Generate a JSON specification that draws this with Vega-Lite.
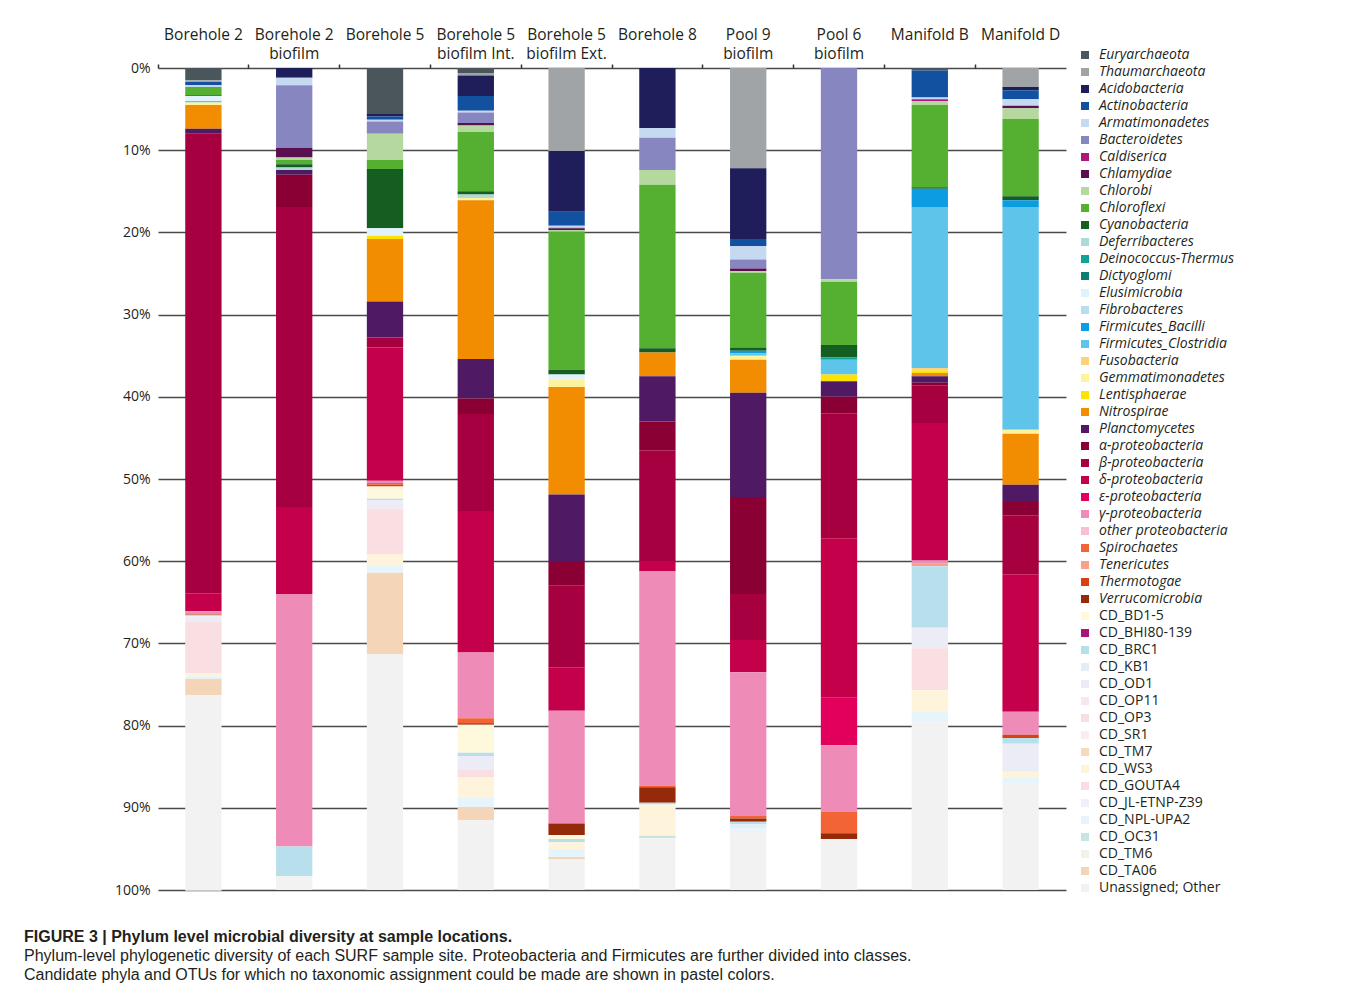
{
"$schema": "https://vega.github.io/schema/vega-lite/v6.json",
"autosize": {"type": "none"},
"width": 908,
"height": 822,
"padding": {"left": 158, "top": 68, "right": 288, "bottom": 102},
"background": "white",
"title": {
  "text": "FIGURE 3 | Phylum level microbial diversity at sample locations.",
  "subtitle": ["Phylum-level phylogenetic diversity of each SURF sample site. Proteobacteria and Firmicutes are further divided into classes.", "Candidate phyla and OTUs for which no taxonomic assignment could be made are shown in pastel colors."],
  "orient": "bottom", "anchor": "start", "frame": "group", "dx": -134, "offset": 32,
  "font": "Liberation Sans", "fontSize": 16, "fontWeight": "bold", "color": "#231f20",
  "subtitleFont": "Liberation Sans", "subtitleFontSize": 16, "subtitleColor": "#231f20", "subtitlePadding": 3, "subtitleLineHeight": 19
},
"data": {"values": [
{"site":"Borehole 2","phylum":"Euryarchaeota","pct":1.5},
{"site":"Borehole 2","phylum":"Thaumarchaeota","pct":0.2},
{"site":"Borehole 2","phylum":"Actinobacteria","pct":0.4},
{"site":"Borehole 2","phylum":"Armatimonadetes","pct":0.2},
{"site":"Borehole 2","phylum":"Chloroflexi","pct":1.0},
{"site":"Borehole 2","phylum":"Cyanobacteria","pct":0.1},
{"site":"Borehole 2","phylum":"Elusimicrobia","pct":0.6},
{"site":"Borehole 2","phylum":"Firmicutes_Clostridia","pct":0.2},
{"site":"Borehole 2","phylum":"Gemmatimonadetes","pct":0.3},
{"site":"Borehole 2","phylum":"Nitrospirae","pct":2.9},
{"site":"Borehole 2","phylum":"Planctomycetes","pct":0.6},
{"site":"Borehole 2","phylum":"β-proteobacteria","pct":55.9},
{"site":"Borehole 2","phylum":"δ-proteobacteria","pct":2.2},
{"site":"Borehole 2","phylum":"γ-proteobacteria","pct":0.3},
{"site":"Borehole 2","phylum":"Thermotogae","pct":0.1},
{"site":"Borehole 2","phylum":"CD_BRC1","pct":0.2},
{"site":"Borehole 2","phylum":"CD_OD1","pct":0.6},
{"site":"Borehole 2","phylum":"CD_OP3","pct":6.3},
{"site":"Borehole 2","phylum":"CD_WS3","pct":0.4},
{"site":"Borehole 2","phylum":"CD_NPL-UPA2","pct":0.3},
{"site":"Borehole 2","phylum":"CD_TA06","pct":2.0},
{"site":"Borehole 2","phylum":"Unassigned; Other","pct":23.8},

{"site":"Borehole 2 biofilm","phylum":"Acidobacteria","pct":1.2},
{"site":"Borehole 2 biofilm","phylum":"Armatimonadetes","pct":0.9},
{"site":"Borehole 2 biofilm","phylum":"Bacteroidetes","pct":7.6},
{"site":"Borehole 2 biofilm","phylum":"Chlamydiae","pct":1.2},
{"site":"Borehole 2 biofilm","phylum":"Chlorobi","pct":0.3},
{"site":"Borehole 2 biofilm","phylum":"Chloroflexi","pct":0.5},
{"site":"Borehole 2 biofilm","phylum":"Cyanobacteria","pct":0.4},
{"site":"Borehole 2 biofilm","phylum":"Deferribacteres","pct":0.3},
{"site":"Borehole 2 biofilm","phylum":"Planctomycetes","pct":0.6},
{"site":"Borehole 2 biofilm","phylum":"α-proteobacteria","pct":3.9},
{"site":"Borehole 2 biofilm","phylum":"β-proteobacteria","pct":36.5},
{"site":"Borehole 2 biofilm","phylum":"δ-proteobacteria","pct":10.6},
{"site":"Borehole 2 biofilm","phylum":"γ-proteobacteria","pct":30.7},
{"site":"Borehole 2 biofilm","phylum":"CD_BRC1","pct":3.6},
{"site":"Borehole 2 biofilm","phylum":"Unassigned; Other","pct":1.7},

{"site":"Borehole 5","phylum":"Euryarchaeota","pct":5.6},
{"site":"Borehole 5","phylum":"Acidobacteria","pct":0.3},
{"site":"Borehole 5","phylum":"Actinobacteria","pct":0.4},
{"site":"Borehole 5","phylum":"Armatimonadetes","pct":0.2},
{"site":"Borehole 5","phylum":"Bacteroidetes","pct":1.5},
{"site":"Borehole 5","phylum":"Chlorobi","pct":3.2},
{"site":"Borehole 5","phylum":"Chloroflexi","pct":1.1},
{"site":"Borehole 5","phylum":"Cyanobacteria","pct":7.2},
{"site":"Borehole 5","phylum":"Elusimicrobia","pct":0.9},
{"site":"Borehole 5","phylum":"Lentisphaerae","pct":0.4},
{"site":"Borehole 5","phylum":"Nitrospirae","pct":7.6},
{"site":"Borehole 5","phylum":"Planctomycetes","pct":4.4},
{"site":"Borehole 5","phylum":"β-proteobacteria","pct":1.2},
{"site":"Borehole 5","phylum":"δ-proteobacteria","pct":16.2},
{"site":"Borehole 5","phylum":"γ-proteobacteria","pct":0.3},
{"site":"Borehole 5","phylum":"Spirochaetes","pct":0.2},
{"site":"Borehole 5","phylum":"Thermotogae","pct":0.2},
{"site":"Borehole 5","phylum":"CD_BD1-5","pct":1.5},
{"site":"Borehole 5","phylum":"CD_BRC1","pct":0.2},
{"site":"Borehole 5","phylum":"CD_OD1","pct":1.0},
{"site":"Borehole 5","phylum":"CD_OP3","pct":5.6},
{"site":"Borehole 5","phylum":"CD_WS3","pct":1.3},
{"site":"Borehole 5","phylum":"CD_NPL-UPA2","pct":0.9},
{"site":"Borehole 5","phylum":"CD_TA06","pct":9.9},
{"site":"Borehole 5","phylum":"Unassigned; Other","pct":28.7},

{"site":"Borehole 5 biofilm Int.","phylum":"Euryarchaeota","pct":0.6},
{"site":"Borehole 5 biofilm Int.","phylum":"Thaumarchaeota","pct":0.3},
{"site":"Borehole 5 biofilm Int.","phylum":"Acidobacteria","pct":2.5},
{"site":"Borehole 5 biofilm Int.","phylum":"Actinobacteria","pct":1.8},
{"site":"Borehole 5 biofilm Int.","phylum":"Armatimonadetes","pct":0.2},
{"site":"Borehole 5 biofilm Int.","phylum":"Bacteroidetes","pct":1.3},
{"site":"Borehole 5 biofilm Int.","phylum":"Chlamydiae","pct":0.3},
{"site":"Borehole 5 biofilm Int.","phylum":"Chlorobi","pct":0.8},
{"site":"Borehole 5 biofilm Int.","phylum":"Chloroflexi","pct":7.2},
{"site":"Borehole 5 biofilm Int.","phylum":"Cyanobacteria","pct":0.4},
{"site":"Borehole 5 biofilm Int.","phylum":"Deferribacteres","pct":0.4},
{"site":"Borehole 5 biofilm Int.","phylum":"Gemmatimonadetes","pct":0.3},
{"site":"Borehole 5 biofilm Int.","phylum":"Nitrospirae","pct":19.3},
{"site":"Borehole 5 biofilm Int.","phylum":"Planctomycetes","pct":4.8},
{"site":"Borehole 5 biofilm Int.","phylum":"α-proteobacteria","pct":1.9},
{"site":"Borehole 5 biofilm Int.","phylum":"β-proteobacteria","pct":11.8},
{"site":"Borehole 5 biofilm Int.","phylum":"δ-proteobacteria","pct":17.2},
{"site":"Borehole 5 biofilm Int.","phylum":"γ-proteobacteria","pct":8.0},
{"site":"Borehole 5 biofilm Int.","phylum":"Spirochaetes","pct":0.6},
{"site":"Borehole 5 biofilm Int.","phylum":"Verrucomicrobia","pct":0.2},
{"site":"Borehole 5 biofilm Int.","phylum":"CD_BD1-5","pct":3.4},
{"site":"Borehole 5 biofilm Int.","phylum":"CD_BRC1","pct":0.4},
{"site":"Borehole 5 biofilm Int.","phylum":"CD_OD1","pct":1.7},
{"site":"Borehole 5 biofilm Int.","phylum":"CD_OP3","pct":0.9},
{"site":"Borehole 5 biofilm Int.","phylum":"CD_WS3","pct":2.5},
{"site":"Borehole 5 biofilm Int.","phylum":"CD_NPL-UPA2","pct":1.1},
{"site":"Borehole 5 biofilm Int.","phylum":"CD_TA06","pct":1.6},
{"site":"Borehole 5 biofilm Int.","phylum":"Unassigned; Other","pct":8.5},

{"site":"Borehole 5 biofilm Ext.","phylum":"Thaumarchaeota","pct":10.1},
{"site":"Borehole 5 biofilm Ext.","phylum":"Acidobacteria","pct":7.4},
{"site":"Borehole 5 biofilm Ext.","phylum":"Actinobacteria","pct":1.7},
{"site":"Borehole 5 biofilm Ext.","phylum":"Armatimonadetes","pct":0.2},
{"site":"Borehole 5 biofilm Ext.","phylum":"Bacteroidetes","pct":0.1},
{"site":"Borehole 5 biofilm Ext.","phylum":"Chlamydiae","pct":0.2},
{"site":"Borehole 5 biofilm Ext.","phylum":"Chlorobi","pct":0.2},
{"site":"Borehole 5 biofilm Ext.","phylum":"Chloroflexi","pct":16.8},
{"site":"Borehole 5 biofilm Ext.","phylum":"Cyanobacteria","pct":0.6},
{"site":"Borehole 5 biofilm Ext.","phylum":"Elusimicrobia","pct":0.6},
{"site":"Borehole 5 biofilm Ext.","phylum":"Gemmatimonadetes","pct":0.9},
{"site":"Borehole 5 biofilm Ext.","phylum":"Nitrospirae","pct":13.1},
{"site":"Borehole 5 biofilm Ext.","phylum":"Planctomycetes","pct":8.2},
{"site":"Borehole 5 biofilm Ext.","phylum":"α-proteobacteria","pct":2.9},
{"site":"Borehole 5 biofilm Ext.","phylum":"β-proteobacteria","pct":9.9},
{"site":"Borehole 5 biofilm Ext.","phylum":"δ-proteobacteria","pct":5.3},
{"site":"Borehole 5 biofilm Ext.","phylum":"γ-proteobacteria","pct":13.7},
{"site":"Borehole 5 biofilm Ext.","phylum":"Verrucomicrobia","pct":1.4},
{"site":"Borehole 5 biofilm Ext.","phylum":"CD_BD1-5","pct":0.5},
{"site":"Borehole 5 biofilm Ext.","phylum":"CD_BRC1","pct":0.4},
{"site":"Borehole 5 biofilm Ext.","phylum":"CD_WS3","pct":0.8},
{"site":"Borehole 5 biofilm Ext.","phylum":"CD_NPL-UPA2","pct":1.0},
{"site":"Borehole 5 biofilm Ext.","phylum":"CD_TA06","pct":0.3},
{"site":"Borehole 5 biofilm Ext.","phylum":"Unassigned; Other","pct":3.7},

{"site":"Borehole 8","phylum":"Acidobacteria","pct":7.3},
{"site":"Borehole 8","phylum":"Armatimonadetes","pct":1.2},
{"site":"Borehole 8","phylum":"Bacteroidetes","pct":3.9},
{"site":"Borehole 8","phylum":"Chlorobi","pct":1.8},
{"site":"Borehole 8","phylum":"Chloroflexi","pct":19.9},
{"site":"Borehole 8","phylum":"Cyanobacteria","pct":0.5},
{"site":"Borehole 8","phylum":"Nitrospirae","pct":2.9},
{"site":"Borehole 8","phylum":"Planctomycetes","pct":5.5},
{"site":"Borehole 8","phylum":"α-proteobacteria","pct":3.5},
{"site":"Borehole 8","phylum":"β-proteobacteria","pct":13.5},
{"site":"Borehole 8","phylum":"δ-proteobacteria","pct":1.2},
{"site":"Borehole 8","phylum":"γ-proteobacteria","pct":26.1},
{"site":"Borehole 8","phylum":"Spirochaetes","pct":0.2},
{"site":"Borehole 8","phylum":"Verrucomicrobia","pct":1.9},
{"site":"Borehole 8","phylum":"CD_BRC1","pct":0.2},
{"site":"Borehole 8","phylum":"CD_WS3","pct":3.8},
{"site":"Borehole 8","phylum":"CD_OC31","pct":0.3},
{"site":"Borehole 8","phylum":"Unassigned; Other","pct":6.3},

{"site":"Pool 9 biofilm","phylum":"Thaumarchaeota","pct":12.2},
{"site":"Pool 9 biofilm","phylum":"Acidobacteria","pct":8.6},
{"site":"Pool 9 biofilm","phylum":"Actinobacteria","pct":0.9},
{"site":"Pool 9 biofilm","phylum":"Armatimonadetes","pct":1.6},
{"site":"Pool 9 biofilm","phylum":"Bacteroidetes","pct":1.1},
{"site":"Pool 9 biofilm","phylum":"Chlamydiae","pct":0.3},
{"site":"Pool 9 biofilm","phylum":"Chlorobi","pct":0.2},
{"site":"Pool 9 biofilm","phylum":"Chloroflexi","pct":9.1},
{"site":"Pool 9 biofilm","phylum":"Cyanobacteria","pct":0.4},
{"site":"Pool 9 biofilm","phylum":"Firmicutes_Bacilli","pct":0.3},
{"site":"Pool 9 biofilm","phylum":"Firmicutes_Clostridia","pct":0.3},
{"site":"Pool 9 biofilm","phylum":"Gemmatimonadetes","pct":0.5},
{"site":"Pool 9 biofilm","phylum":"Nitrospirae","pct":4.0},
{"site":"Pool 9 biofilm","phylum":"Planctomycetes","pct":12.7},
{"site":"Pool 9 biofilm","phylum":"α-proteobacteria","pct":11.8},
{"site":"Pool 9 biofilm","phylum":"β-proteobacteria","pct":5.6},
{"site":"Pool 9 biofilm","phylum":"δ-proteobacteria","pct":3.9},
{"site":"Pool 9 biofilm","phylum":"γ-proteobacteria","pct":17.5},
{"site":"Pool 9 biofilm","phylum":"Spirochaetes","pct":0.3},
{"site":"Pool 9 biofilm","phylum":"Verrucomicrobia","pct":0.4},
{"site":"Pool 9 biofilm","phylum":"CD_BRC1","pct":0.3},
{"site":"Pool 9 biofilm","phylum":"CD_KB1","pct":0.5},
{"site":"Pool 9 biofilm","phylum":"CD_NPL-UPA2","pct":0.5},
{"site":"Pool 9 biofilm","phylum":"Unassigned; Other","pct":7.0},

{"site":"Pool 6 biofilm","phylum":"Bacteroidetes","pct":25.7},
{"site":"Pool 6 biofilm","phylum":"Chlorobi","pct":0.3},
{"site":"Pool 6 biofilm","phylum":"Chloroflexi","pct":7.7},
{"site":"Pool 6 biofilm","phylum":"Cyanobacteria","pct":1.5},
{"site":"Pool 6 biofilm","phylum":"Deinococcus-Thermus","pct":0.3},
{"site":"Pool 6 biofilm","phylum":"Firmicutes_Clostridia","pct":1.8},
{"site":"Pool 6 biofilm","phylum":"Lentisphaerae","pct":0.8},
{"site":"Pool 6 biofilm","phylum":"Planctomycetes","pct":1.9},
{"site":"Pool 6 biofilm","phylum":"α-proteobacteria","pct":2.0},
{"site":"Pool 6 biofilm","phylum":"β-proteobacteria","pct":15.2},
{"site":"Pool 6 biofilm","phylum":"δ-proteobacteria","pct":19.4},
{"site":"Pool 6 biofilm","phylum":"ε-proteobacteria","pct":5.8},
{"site":"Pool 6 biofilm","phylum":"γ-proteobacteria","pct":8.1},
{"site":"Pool 6 biofilm","phylum":"Spirochaetes","pct":2.6},
{"site":"Pool 6 biofilm","phylum":"Verrucomicrobia","pct":0.7},
{"site":"Pool 6 biofilm","phylum":"Unassigned; Other","pct":6.2},

{"site":"Manifold B","phylum":"Euryarchaeota","pct":0.3},
{"site":"Manifold B","phylum":"Actinobacteria","pct":3.3},
{"site":"Manifold B","phylum":"Armatimonadetes","pct":0.2},
{"site":"Manifold B","phylum":"Caldiserica","pct":0.2},
{"site":"Manifold B","phylum":"Chlorobi","pct":0.5},
{"site":"Manifold B","phylum":"Chloroflexi","pct":10.0},
{"site":"Manifold B","phylum":"Cyanobacteria","pct":0.2},
{"site":"Manifold B","phylum":"Firmicutes_Bacilli","pct":2.2},
{"site":"Manifold B","phylum":"Firmicutes_Clostridia","pct":19.6},
{"site":"Manifold B","phylum":"Fusobacteria","pct":0.3},
{"site":"Manifold B","phylum":"Lentisphaerae","pct":0.3},
{"site":"Manifold B","phylum":"Nitrospirae","pct":0.4},
{"site":"Manifold B","phylum":"Planctomycetes","pct":0.8},
{"site":"Manifold B","phylum":"α-proteobacteria","pct":0.3},
{"site":"Manifold B","phylum":"β-proteobacteria","pct":4.6},
{"site":"Manifold B","phylum":"δ-proteobacteria","pct":16.7},
{"site":"Manifold B","phylum":"γ-proteobacteria","pct":0.4},
{"site":"Manifold B","phylum":"Tenericutes","pct":0.3},
{"site":"Manifold B","phylum":"CD_BRC1","pct":7.5},
{"site":"Manifold B","phylum":"CD_OD1","pct":2.5},
{"site":"Manifold B","phylum":"CD_OP3","pct":5.1},
{"site":"Manifold B","phylum":"CD_WS3","pct":2.6},
{"site":"Manifold B","phylum":"CD_NPL-UPA2","pct":1.3},
{"site":"Manifold B","phylum":"Unassigned; Other","pct":20.4},

{"site":"Manifold D","phylum":"Thaumarchaeota","pct":2.3},
{"site":"Manifold D","phylum":"Acidobacteria","pct":0.4},
{"site":"Manifold D","phylum":"Actinobacteria","pct":1.1},
{"site":"Manifold D","phylum":"Armatimonadetes","pct":0.8},
{"site":"Manifold D","phylum":"Chlamydiae","pct":0.3},
{"site":"Manifold D","phylum":"Chlorobi","pct":1.3},
{"site":"Manifold D","phylum":"Chloroflexi","pct":9.4},
{"site":"Manifold D","phylum":"Cyanobacteria","pct":0.5},
{"site":"Manifold D","phylum":"Firmicutes_Bacilli","pct":0.8},
{"site":"Manifold D","phylum":"Firmicutes_Clostridia","pct":27.1},
{"site":"Manifold D","phylum":"Gemmatimonadetes","pct":0.5},
{"site":"Manifold D","phylum":"Nitrospirae","pct":6.2},
{"site":"Manifold D","phylum":"Planctomycetes","pct":2.1},
{"site":"Manifold D","phylum":"α-proteobacteria","pct":1.6},
{"site":"Manifold D","phylum":"β-proteobacteria","pct":7.2},
{"site":"Manifold D","phylum":"δ-proteobacteria","pct":16.7},
{"site":"Manifold D","phylum":"γ-proteobacteria","pct":2.8},
{"site":"Manifold D","phylum":"Thermotogae","pct":0.4},
{"site":"Manifold D","phylum":"CD_BRC1","pct":0.7},
{"site":"Manifold D","phylum":"CD_OD1","pct":3.4},
{"site":"Manifold D","phylum":"CD_WS3","pct":0.7},
{"site":"Manifold D","phylum":"CD_NPL-UPA2","pct":0.7},
{"site":"Manifold D","phylum":"Unassigned; Other","pct":13.0}
]},
"transform": [
  {"calculate": "indexof(['Euryarchaeota','Thaumarchaeota','Acidobacteria','Actinobacteria','Armatimonadetes','Bacteroidetes','Caldiserica','Chlamydiae','Chlorobi','Chloroflexi','Cyanobacteria','Deferribacteres','Deinococcus-Thermus','Dictyoglomi','Elusimicrobia','Fibrobacteres','Firmicutes_Bacilli','Firmicutes_Clostridia','Fusobacteria','Gemmatimonadetes','Lentisphaerae','Nitrospirae','Planctomycetes','α-proteobacteria','β-proteobacteria','δ-proteobacteria','ε-proteobacteria','γ-proteobacteria','other proteobacteria','Spirochaetes','Tenericutes','Thermotogae','Verrucomicrobia','CD_BD1-5','CD_BHI80-139','CD_BRC1','CD_KB1','CD_OD1','CD_OP11','CD_OP3','CD_SR1','CD_TM7','CD_WS3','CD_GOUTA4','CD_JL-ETNP-Z39','CD_NPL-UPA2','CD_OC31','CD_TM6','CD_TA06','Unassigned; Other'], datum.phylum)", "as": "rank"}
],
"mark": {"type": "bar", "width": {"band": 0.4}},
"encoding": {
  "x": {"field": "site", "type": "nominal", "sort": null,
    "scale": {"paddingInner": 0, "paddingOuter": 0},
    "axis": {"orient": "top", "title": null, "labelAngle": 0, "labelFont": "Open Sans", "labelFontSize": 15.5, "labelColor": "#231f20",
      "labelExpr": "indexof(datum.label, ' biofilm') > 0 ? split(replace(datum.label, ' biofilm', '|biofilm'), '|') : datum.label",
      "labelLineHeight": 19, "labelPadding": 22, "labelBaseline": "bottom",
      "domain": false, "ticks": true, "tickSize": 4, "tickColor": "#333333", "tickWidth": 1.5, "bandPosition": 0, "grid": false}},
  "y": {"field": "pct", "type": "quantitative", "stack": "zero",
    "scale": {"domain": [0, 100], "reverse": true, "nice": false},
    "axis": {"title": null, "values": [0,10,20,30,40,50,60,70,80,90,100], "labelExpr": "datum.value + '%'",
      "labelFont": "Open Sans", "labelFontSize": 14, "labelColor": "#231f20", "labelPadding": 8,
      "domain": false, "ticks": false, "grid": true, "gridColor": "#4a4a4a", "gridWidth": 1.5}},
  "order": {"field": "rank", "type": "quantitative"},
  "color": {"field": "phylum", "type": "nominal",
    "scale": {
      "domain": ["Euryarchaeota","Thaumarchaeota","Acidobacteria","Actinobacteria","Armatimonadetes","Bacteroidetes","Caldiserica","Chlamydiae","Chlorobi","Chloroflexi","Cyanobacteria","Deferribacteres","Deinococcus-Thermus","Dictyoglomi","Elusimicrobia","Fibrobacteres","Firmicutes_Bacilli","Firmicutes_Clostridia","Fusobacteria","Gemmatimonadetes","Lentisphaerae","Nitrospirae","Planctomycetes","α-proteobacteria","β-proteobacteria","δ-proteobacteria","ε-proteobacteria","γ-proteobacteria","other proteobacteria","Spirochaetes","Tenericutes","Thermotogae","Verrucomicrobia","CD_BD1-5","CD_BHI80-139","CD_BRC1","CD_KB1","CD_OD1","CD_OP11","CD_OP3","CD_SR1","CD_TM7","CD_WS3","CD_GOUTA4","CD_JL-ETNP-Z39","CD_NPL-UPA2","CD_OC31","CD_TM6","CD_TA06","Unassigned; Other"],
      "range": ["#4b555c","#a1a4a7","#1f1d5a","#1251a0","#c5d9f0","#8886c1","#b0177a","#5a1050","#b4d89e","#55b032","#155e22","#aedcd4","#12a397","#0d7f6f","#e0f3fb","#b8dcf1","#0c9de0","#5ec4ea","#fdd27a","#fdf39c","#ffe300","#f28c00","#4f1a63","#8a0034","#a60040","#c4004a","#e2005c","#ee8bb6","#f6bfd4","#f26436","#f7a08a","#d9400f","#952a0a","#fef8dc","#a8147a","#b8e0ec","#e3ecf7","#ececf7","#f8e6f0","#f9dfe2","#fbecec","#f8d8bb","#fef4dc","#f9dde6","#f0eff7","#e6f4fb","#c5e6e1","#eef5e7","#f5d5b8","#f2f2f2"]},
    "legend": {"title": null, "orient": "none", "legendX": 920, "legendY": -20, "symbolType": "square", "symbolSize": 64, "symbolStrokeWidth": 0,
      "labelFont": "Open Sans", "labelFontSize": 14, "labelColor": "#231f20", "labelOffset": 7, "rowPadding": 3, "symbolLimit": 60, "labelLimit": 300,
      "encode": {"labels": {"update": {"fontStyle": {"signal": "indexof(datum.label, 'CD_') === 0 || datum.label === 'Unassigned; Other' ? 'normal' : 'italic'"}}}}}}
},
"config": {"view": {"stroke": null}}
}
